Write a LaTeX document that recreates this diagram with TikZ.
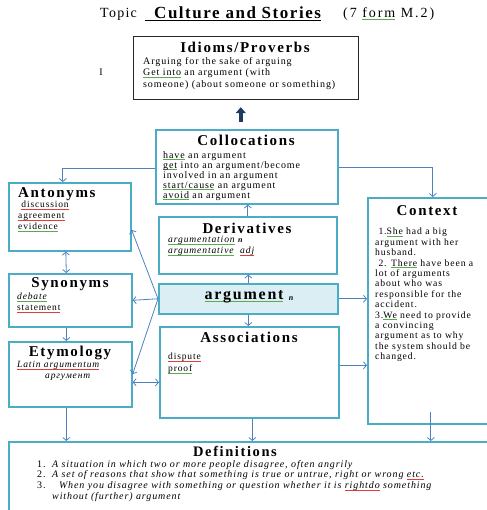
\documentclass[tikz,border=0pt]{standalone}
\usepackage{fontspec}
\setmainfont{Liberation Serif}[LetterSpace=9]
\newfontfamily\headfont{Liberation Serif}[LetterSpace=11]
\usetikzlibrary{arrows.meta}

\definecolor{boxteal}{RGB}{75,172,198}
\definecolor{linkblue}{RGB}{79,129,189}
\definecolor{argfill}{RGB}{218,238,243}
\definecolor{navy}{RGB}{31,56,100}
\definecolor{sqgreen}{RGB}{90,170,80}
\definecolor{sqred}{RGB}{225,60,60}

\newlength{\sqwidth}
\newcommand{\greenline}[1]{\settowidth{\sqwidth}{#1}\rlap{\textcolor{sqgreen}{\rule[-1.8pt]{\sqwidth}{0.7pt}}}#1}
\newcommand{\redline}[1]{\settowidth{\sqwidth}{#1}\rlap{\textcolor{sqred}{\rule[-1.8pt]{\sqwidth}{0.7pt}}}#1}

\begin{document}
\begin{tikzpicture}
        [x=1pt,y=-1pt,
        box/.style={draw=boxteal,line width=1.6pt,anchor=north west,inner sep=0pt},
        link/.style={draw=linkblue,line width=0.8pt,-{Straight Barb[length=3pt,width=7pt]}},
        both/.style={link,{Straight Barb[length=3pt,width=7pt]}-{Straight Barb[length=3pt,width=7pt]}},
        bigarrow/.style={draw=navy,line width=3.5pt,-{Triangle[length=6pt,width=10pt]}},
        head/.style={font=\headfont\fontsize{15}{18}\selectfont\bfseries,inner sep=0pt},
        body/.style={anchor=north west,inner sep=0pt,align=left,font=\fontsize{9.5}{11}\selectfont}]
        \useasboundingbox (0,0) rectangle (486,510);

        \node[box,draw=black!85,line width=1.2pt,minimum width=225pt,minimum height=63pt] (idioms) at (133,36) {};
        \node[box,minimum width=182pt,minimum height=74pt] (coll) at (155,129) {};
        \node[box,minimum width=178pt,minimum height=57pt] (deriv) at (158,216) {};
        \node[box,fill=argfill,minimum width=179pt,minimum height=30pt] (arg) at (158,283) {};
        \node[box,minimum width=179pt,minimum height=91pt] (assoc) at (159,326) {};
        \node[box,minimum width=122pt,minimum height=68pt] (anto) at (8,182) {};
        \node[box,minimum width=123pt,minimum height=53pt] (syno) at (8,273) {};
        \node[box,minimum width=123pt,minimum height=65pt] (etym) at (8,341) {};
        \node[box,minimum width=130pt,minimum height=226pt] (ctx) at (367,197) {};
        \node[box,minimum width=490pt,minimum height=69pt] (defs) at (8,441) {};

        \node[anchor=west,inner sep=0pt,font=\fontsize{14}{16}\selectfont] (topic) at (100,14) {Topic};
        \node[anchor=west,inner sep=0pt,font=\headfont\fontsize{17}{18}\selectfont\bfseries\addfontfeatures{LetterSpace=9}] (theme) at (145,14)
          {\underline{\hspace{9pt}Culture and Stories}};
        \node[anchor=west,inner sep=0pt,font=\fontsize{14}{16}\selectfont\addfontfeatures{LetterSpace=14}] (form) at (343,14)
          {(7 \greenline{form} M.2)};
        \node[font=\fontsize{10}{12}\selectfont] (cursor) at (101,72) {I};

        \node[head] (idtitle) at (245,47) {Idioms/Proverbs};
        \node[body,font=\fontsize{10}{11.5}\selectfont] (idtext) at (143,57)
          {Arguing for the sake of arguing\\ \greenline{Get into} an argument (with\\ someone) (about someone or something)};

        \node[head] (colltitle) at (246,140) {Collocations};
        \node[body,font=\fontsize{10}{10}\selectfont] (colltext) at (163,151)
          {\greenline{have} an argument\\ \greenline{get} into an argument/become\\ involved in an argument\\
           \greenline{start/cause} an argument\\ \greenline{avoid} an argument};

        \node[head] (derivtitle) at (247,228) {Derivatives};
        \node[body,font=\fontsize{9.6}{11}\itshape] (derivtext) at (168,236)
          {\greenline{argumentation} \textbf{\footnotesize n}\\ \greenline{argumentative}\ \ \redline{adj}};

        \node[head,font=\headfont\fontsize{16}{18}\selectfont\bfseries] (argword) at (244,297) {\greenline{argument}};
        \node[inner sep=0pt,font=\fontsize{8}{8}\selectfont\bfseries\itshape] (argn) at (291,299) {n};

        \node[head] (assoctitle) at (249,337) {Associations};
        \node[body,font=\fontsize{9.5}{12}\selectfont] (assoctext) at (168,353)
          {\redline{dispute}\\ \greenline{proof}};

        \node[head,anchor=west] (antotitle) at (18,194) {Antonyms};
        \node[body] (antotext) at (18,201)
          {\ \redline{discussion}\\ \redline{agreement}\\ \greenline{evidence}};

        \node[head] (synotitle) at (70,284) {Synonyms};
        \node[body] (synotext) at (17,293)
          {\itshape\greenline{debate}\\ \redline{statement}};

        \node[head] (etymtitle) at (70,353) {Etymology};
        \node[body,font=\fontsize{9.5}{11}\itshape] (etymtext) at (17,361)
          {\redline{Latin argumentum}\\ \hspace{28pt}аргумент};

        \node[head] (ctxtitle) at (427,211) {Context};
        \node[body,font=\fontsize{9.7}{10.4}\selectfont] (ctxtext) at (375,228)
          {\ 1.\greenline{She} had a big\\ argument with her\\ husband.\\ \ 2. \greenline{There} have been a\\
           lot of arguments\\ about who was\\ responsible for the\\ accident.\\ 3.\greenline{We} need to provide\\
           a convincing\\ argument as to why\\ the system should be\\ changed.};

        \node[head,font=\headfont\fontsize{14.5}{16}\selectfont\bfseries] (defstitle) at (235,451) {Definitions};
        \node[body,font=\fontsize{10}{10.7}\selectfont] (defstext) at (37,460)
          {\makebox[15pt][l]{1.}\textit{A situation in which two or more people disagree, often angrily}\\
           \makebox[15pt][l]{2.}\textit{A set of reasons that show that something is true or untrue, right or wrong \redline{etc.}}\\
           \makebox[15pt][l]{3.}\textit{\ \ When you disagree with something or question whether it is \redline{rightdo} something}\\
           \hspace{15pt}\textit{without (further) argument}};

        \draw[bigarrow] ([xshift=-6pt,yshift=7pt]coll.north) -- ([xshift=-6pt,yshift=-7pt]coll.north |- idioms.south);
        \draw[link] ([yshift=-2pt]coll.west) -| ([xshift=-7pt]anto.north);
        \draw[link] ([yshift=-1pt]coll.east) -| (ctx.north);
        \draw[link] (deriv.north) -- (deriv.north |- coll.south);
        \draw[link] (arg.north) -- (arg.north |- deriv.south);
        \draw[link] (arg.south) -- (arg.south |- assoc.north);
        \draw[link] (arg.east) -- (arg.east -| ctx.west);
        \draw[link] ([yshift=7pt]assoc.east) -- ([yshift=7pt]assoc.east -| ctx.west);
        \draw[link] ([xshift=3pt]assoc.south) -- ([xshift=3pt]assoc.south |- defs.north);
        \draw[link] ([xshift=-2pt,yshift=13pt]ctx.south) -- ([xshift=-2pt]ctx.south |- defs.north);
        \draw[link] (arg.west) -- ([yshift=-13pt]anto.east);
        \draw[link] (arg.west) -- (syno.east);
        \draw[link] (arg.west) -- (etym.east);
        \draw[both] ([xshift=-4pt]anto.south) -- ([xshift=-4pt]syno.north);
        \draw[link] ([xshift=-4pt]syno.south) -- ([xshift=-4pt]etym.north);
        \draw[both] ([yshift=-8pt]etym.east) -- ([yshift=-8pt]etym.east -| assoc.west);
        \draw[link] ([xshift=-4pt]etym.south) -- ([xshift=-4pt]etym.south |- defs.north);
      \end{tikzpicture}
\end{document}
